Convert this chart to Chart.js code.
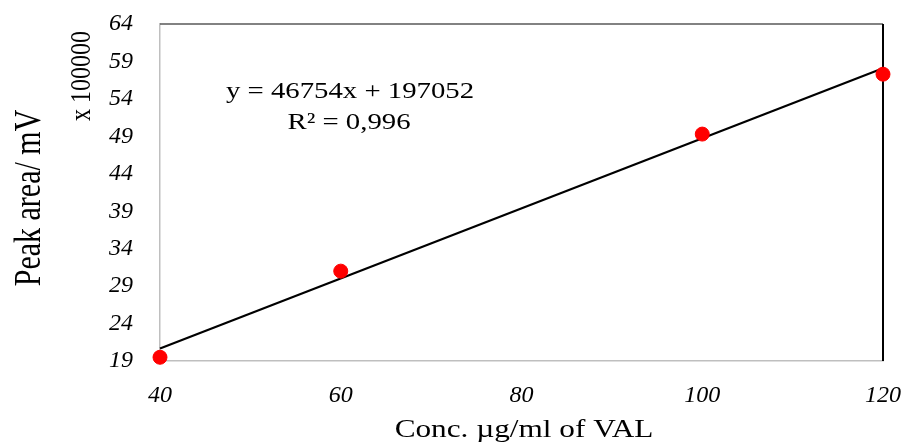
<!DOCTYPE html>
<html>
<head>
<meta charset="utf-8">
<script src="https://cdn.jsdelivr.net/npm/chart.js@4.4.1/dist/chart.umd.min.js"></script>
<style>
  html, body { margin: 0; padding: 0; background: #fff; }
  #wrap { width: 907px; height: 446px; }
</style>
</head>
<body>
<div id="wrap"><canvas id="output" width="907" height="446"></canvas></div>
<script>
// concentrations (µg/ml) and peak areas (x 100000 mV)
const concentrations = [40, 60, 100, 120];
const peakAreas = [19.5, 31.0, 49.3, 57.3];

// linear trendline end points
const trendX = [40, 120];
const trendY = [20.67, 58.08];

const yTicks = [19, 24, 29, 34, 39, 44, 49, 54, 59, 64];
const xTicks = [40, 60, 80, 100, 120];

const equationText = 'y = 46754x + 197052';
const r2Text = 'R\u00b2 = 0,996';
const xTitle = 'Conc. \u00b5g/ml of VAL';
const yTitle = 'Peak area/ mV';
const yUnit = 'x 100000';

const serif = '"Liberation Serif", "Times New Roman", serif';
const stretch = 1.25; // text in the original is a bit wide

function wideText(ctx, text, x, y, size, rotate) {
    ctx.save();
    ctx.translate(x, y);
    ctx.scale(stretch, 1);
    if (rotate) ctx.rotate(-Math.PI / 2);
    ctx.font = size + 'px ' + serif;
    ctx.fillText(text, 0, 0);
    ctx.restore();
}

// frame on top/right, axis titles and the trendline equation
const extras = {
    id: 'extras',
    beforeDatasetsDraw(chart) {
        const { ctx, chartArea: a } = chart;
        ctx.save();
        ctx.lineWidth = 1.5;
        ctx.strokeStyle = '#595959';
        ctx.beginPath();
        ctx.moveTo(a.left, a.top);
        ctx.lineTo(a.right, a.top);
        ctx.stroke();
        ctx.lineWidth = 2;
        ctx.strokeStyle = '#000';
        ctx.beginPath();
        ctx.moveTo(a.right, a.top);
        ctx.lineTo(a.right, a.bottom);
        ctx.stroke();
        ctx.restore();
    },
    afterDraw(chart) {
        const { ctx } = chart;
        ctx.save();
        ctx.fillStyle = '#000';
        ctx.textAlign = 'center';
        ctx.textBaseline = 'middle';
        wideText(ctx, equationText, 350, 92, 23);
        wideText(ctx, r2Text, 349, 123, 23);
        wideText(ctx, xTitle, 524, 430, 25);
        wideText(ctx, yUnit, 82, 76, 24, true);
        wideText(ctx, yTitle, 30, 198, 30, true);
        ctx.restore();
    }
};

const ctx = document.getElementById('output').getContext('2d');

new Chart(ctx, {
    type: 'scatter',
    data: {
        datasets: [{
            label: 'Peak area',
            data: concentrations.map((c, i) => ({ x: c, y: peakAreas[i] })),
            backgroundColor: '#ff0000',
            borderColor: '#ff0000',
            pointRadius: 7,
            pointHoverRadius: 7,
            clip: false,
            order: 1
        }, {
            type: 'line',
            label: 'Linear',
            data: trendX.map((c, i) => ({ x: c, y: trendY[i] })),
            borderColor: '#000',
            borderWidth: 2.2,
            pointRadius: 0,
            fill: false,
            clip: false,
            order: 2
        }]
    },
    options: {
        responsive: false,
        animation: false,
        layout: { padding: { top: 24, right: 24, left: 0, bottom: 0 } },
        plugins: {
            legend: { display: false },
            tooltip: { enabled: false }
        },
        scales: {
            x: {
                type: 'linear',
                min: 40,
                max: 120,
                afterBuildTicks: scale => { scale.ticks = xTicks.map(v => ({ value: v })); },
                afterFit: scale => {
                    scale.height = 85;
                    scale.paddingLeft = 0;
                    scale.paddingRight = 0;
                },
                grid: { display: false, drawTicks: false },
                border: { color: '#bfbfbf', width: 1.5 },
                ticks: {
                    padding: 20,
                    color: '#000',
                    maxRotation: 0,
                    font: { family: serif, size: 24, style: 'italic' }
                }
            },
            y: {
                min: 19,
                max: 64,
                afterBuildTicks: scale => { scale.ticks = yTicks.map(v => ({ value: v })); },
                afterFit: scale => {
                    scale.width = 160;
                    scale.paddingTop = 0;
                    scale.paddingBottom = 0;
                },
                grid: { display: false, drawTicks: false },
                border: { color: '#bfbfbf', width: 1.5 },
                ticks: {
                    padding: 27,
                    color: '#000',
                    font: { family: serif, size: 24, style: 'italic' }
                }
            }
        }
    },
    plugins: [extras]
});
</script>
</body>
</html>
